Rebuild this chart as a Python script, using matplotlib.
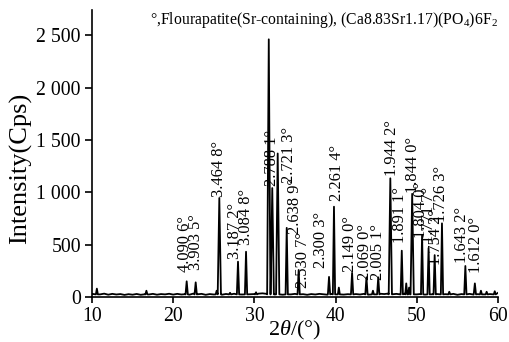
import matplotlib
matplotlib.use("Agg")
import matplotlib.pyplot as plt
import numpy as np

plt.rcParams['font.family'] = ['Liberation Serif', 'DejaVu Serif']
plt.rcParams['mathtext.fontset'] = 'custom'
plt.rcParams['mathtext.rm'] = 'Liberation Serif'
plt.rcParams['mathtext.it'] = 'Liberation Serif:italic'

# labelled peaks: 2theta, intensity, d-spacing label
peak_pos = [21.66, 22.77, 25.68, 27.98, 28.97, 31.77, 32.20, 32.87, 33.98, 35.45,
            39.19, 39.80, 42.03, 43.80, 45.25, 46.74, 48.15, 49.43, 50.65, 51.45,
            52.20, 53.10, 55.98, 57.15]
peak_int = [150, 140, 945, 337, 432, 2460, 1040, 1370, 660, 258,
            192, 862, 230, 188, 188, 1133, 442, 985, 592, 468,
            400, 703, 296, 130]

# small unlabelled reflections
minor_pos = [10.6, 16.7, 25.35, 27.0, 30.2, 40.4, 44.6, 48.7, 49.05, 54.0, 57.9, 58.6, 59.6]
minor_int = [80, 60, 60, 40, 45, 90, 60, 130, 90, 50, 60, 50, 55]

# background, 10..60 every 0.5 deg
bg_int = [30, 38, 25, 32, 22, 30, 24, 28, 20, 27,
          22, 29, 21, 26, 24, 30, 22, 28, 25, 31,
          23, 30, 24, 27, 22, 33, 26, 30, 21, 28,
          24, 30, 22, 29, 25, 31, 27, 24, 30, 26,
          28, 32, 35, 30, 27, 24, 29, 22, 28, 25,
          30, 23, 27, 21, 28, 24, 30, 26, 22, 29,
          25, 31, 23, 27, 20, 28, 24, 30, 22, 27,
          25, 31, 28, 33, 26, 30, 24, 32, 27, 30,
          25, 29, 23, 31, 26, 28, 22, 27, 24, 30,
          21, 28, 25, 30, 23, 27, 26, 33, 28, 35,
          40]
bg_pos = np.linspace(10, 60, len(bg_int))

labels = ["4.090 6°", "3.903 5°", "3.464 8°", "3.187 2°", "3.084 8°", "2.788 1°",
          "2.721 3°", "2.638 9°", "2.530 7°", "2.300 3°", "2.261 4°", "2.149 0°",
          "2.069 0°", "2.005 1°", "1.944 2°", "1.891 1°", "1.844 0°", "1.804 0°",
          "1.771 7°", "1.754 2°", "1.726 3°", "1.643 2°", "1.612 0°"]
# where each label sits (x centre, bottom)
label_x = [21.45, 22.80, 25.64, 27.60, 28.97, 32.17, 34.26, 35.00, 35.98, 38.20,
           40.17, 41.77, 43.62, 45.22, 46.95, 47.93, 49.53, 50.52, 51.50, 52.36,
           52.98, 55.57, 57.30]
label_y = [239, 258, 954, 363, 496, 1059, 1088, 601, 86, 277,
           916, 239, 162, 162, 1155, 515, 992, 563, 515, 305,
           716, 324, 229]

yticks = [0, 500, 1000, 1500, 2000, 2500]
ytick_labels = ["0", "500", "1 000", "1 500", "2 000", "2 500"]
xticks = [10, 20, 30, 40, 50, 60]


def build_pattern():
    pts = []
    windows = []
    for p, h in zip(peak_pos, peak_int):
        hw = 0.2 if h > 900 else 0.14
        windows.append((p - hw, p + hw))
        pts += [(p - hw, 25), (p, h), (p + hw, 25)]
    for p, h in zip(minor_pos, minor_int):
        hw = 0.12
        windows.append((p - hw, p + hw))
        pts += [(p - hw, 25), (p, h), (p + hw, 25)]
    for x, y in zip(bg_pos, bg_int):
        if not any(a <= x <= b for a, b in windows):
            pts.append((x, y))
    pts.sort()
    return [q[0] for q in pts], [q[1] for q in pts]


fig = plt.figure(figsize=(5.09, 3.42), dpi=100)
ax = fig.add_axes([92 / 509, 45 / 342, 406 / 509, 287 / 342])

xs, ys = build_pattern()
ax.plot(xs, ys, color='black', lw=1.3)

for t, x, y in zip(labels, label_x, label_y):
    ax.text(x, y, t, rotation=90, ha='center', va='bottom', fontsize=11.8)

ax.set_xlim(10, 60)
ax.set_ylim(0, 2740)
ax.set_xticks(xticks)
ax.set_yticks(yticks)
ax.set_yticklabels(ytick_labels)
ax.tick_params(axis='both', labelsize=14.2, width=1.2)
ax.tick_params(axis='y', direction='out', length=5, pad=3)
ax.tick_params(axis='x', direction='out', length=4, pad=3)
for s in ['top', 'right']:
    ax.spines[s].set_visible(False)
for s in ['left', 'bottom']:
    ax.spines[s].set_linewidth(1.2)

ax.set_ylabel("Intensity(Cps)", fontsize=19)
ax.yaxis.set_label_coords(-0.148, 0.449)
ax.set_xlabel(r"2$\mathit{\theta}$/(°)", fontsize=16)
ax.xaxis.set_label_coords(0.5, -0.075)

fig.text(150 / 509, 1 - 20 / 342, r"°,Flourapatite(Sr-containing), (Ca8.83Sr1.17)(PO$_4$)6F$_2$",
         fontsize=11.3, ha='left', va='center')

fig.savefig("out.png", dpi=100)
